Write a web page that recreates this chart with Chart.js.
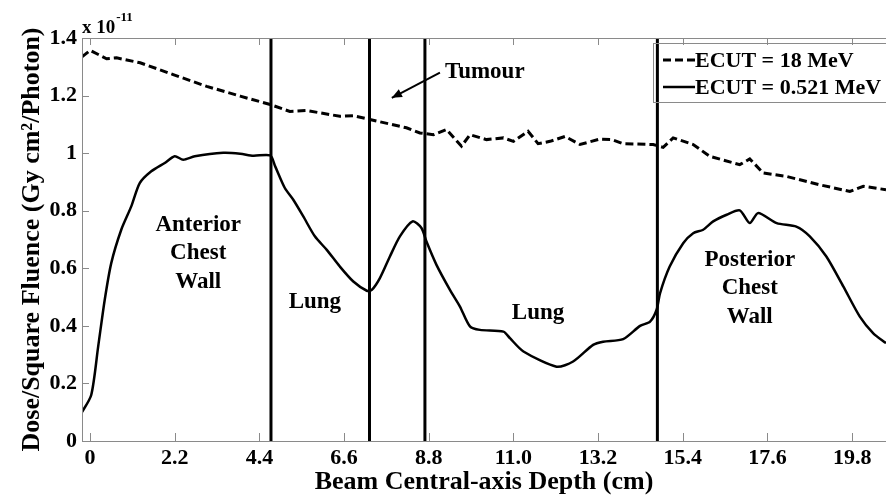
<!DOCTYPE html>
<html>
<head>
  <meta charset="utf-8" />
  <title>Dose / Square Fluence vs Depth</title>
  <script src="https://cdn.jsdelivr.net/npm/chart.js"></script>
  <style>
    body { margin: 0; background: #fff; }
    #doseChart { display: block; }
  </style>
</head>
<body>
  <canvas id="doseChart" width="886" height="495"></canvas>

  <script>
    // depth along beam central axis (cm)
    const depthHigh = [-0.21, -0.13, 0, 0.43, 0.69, 1.30, 2.16, 3.03, 3.90, 4.68, 5.19, 5.63, 6.49, 6.84, 7.27, 8.22,
      8.57, 8.92, 9.26, 9.65, 9.87, 10.30, 10.74, 11.0, 11.38, 11.64, 11.95, 12.34, 12.73, 13.25, 13.55, 13.85,
      14.63, 14.89, 15.15, 15.67, 16.10, 16.88, 17.14, 17.49, 18.10, 18.96, 19.74, 20.09, 20.68];
    // dose per square fluence, units of 1e-11 Gy cm^2/photon
    const doseHigh = [1.335, 1.343, 1.357, 1.328, 1.331, 1.314, 1.273, 1.232, 1.198, 1.169, 1.145, 1.148, 1.128, 1.130, 1.117, 1.088,
      1.070, 1.064, 1.082, 1.024, 1.064, 1.047, 1.053, 1.041, 1.076, 1.033, 1.041, 1.058, 1.030, 1.049, 1.047, 1.033,
      1.030, 1.020, 1.053, 1.030, 0.989, 0.960, 0.980, 0.931, 0.919, 0.890, 0.867, 0.885, 0.873];

    const depthLow = [-0.23, 0.03, 0.21, 0.38, 0.55, 0.81, 1.07, 1.29, 1.59, 1.94, 2.20, 2.42, 2.72, 3.46, 3.90, 4.24, 4.68,
      4.81, 5.06, 5.28, 5.54, 5.84, 6.15, 6.49, 6.84, 7.19, 7.32, 7.53, 7.79, 8.05, 8.38, 8.61, 8.74, 9.0, 9.35, 9.61,
      9.87, 10.13, 10.74, 10.91, 11.26, 12.12, 12.55, 13.07, 13.33, 13.85, 14.29, 14.55, 14.72, 14.81, 15.06, 15.41,
      15.67, 15.93, 16.19, 16.54, 16.88, 17.14, 17.36, 17.84, 18.35, 18.70, 19.13, 19.57, 20.0, 20.35, 20.68];
    const doseLow = [0.096, 0.160, 0.328, 0.490, 0.618, 0.734, 0.815, 0.896, 0.937, 0.966, 0.989, 0.977, 0.989, 1.001, 0.998, 0.991, 0.992,
      0.954, 0.879, 0.838, 0.780, 0.711, 0.664, 0.606, 0.554, 0.522, 0.525, 0.566, 0.641, 0.711, 0.763, 0.740, 0.693, 0.612, 0.525, 0.467,
      0.398, 0.386, 0.380, 0.357, 0.311, 0.258, 0.276, 0.334, 0.345, 0.354, 0.400, 0.415, 0.456, 0.514, 0.606, 0.687,
      0.722, 0.734, 0.763, 0.786, 0.801, 0.757, 0.792, 0.757, 0.745, 0.711, 0.641, 0.537, 0.432, 0.374, 0.340];

    // tissue boundaries (cm)
    const boundaries = [4.70, 7.26, 8.70, 14.74];

    const seriesNames = ['ECUT = 18 MeV', 'ECUT = 0.521 MeV'];

    const xTicks = [0, 2.2, 4.4, 6.6, 8.8, 11.0, 13.2, 15.4, 17.6, 19.8];
    const xTickLabels = ['0', '2.2', '4.4', '6.6', '8.8', '11.0', '13.2', '15.4', '17.6', '19.8'];
    const yTicks = [0, 0.2, 0.4, 0.6, 0.8, 1.0, 1.2, 1.4];
    const yTickLabels = ['0', '0.2', '0.4', '0.6', '0.8', '1', '1.2', '1.4'];

    // region labels, placed in data coordinates
    const regionLabels = [
      { lines: ['Anterior', 'Chest', 'Wall'], x: 2.81, y: 0.751 },
      { lines: ['Lung'], x: 5.84, y: 0.483 },
      { lines: ['Lung'], x: 11.64, y: 0.445 },
      { lines: ['Posterior', 'Chest', 'Wall'], x: 17.14, y: 0.630 }
    ];
    const tumourNote = { text: 'Tumour', x: 9.22, y: 1.28, fromX: 9.09, fromY: 1.28, toX: 7.84, toY: 1.192 };

    const SERIF = '"Liberation Serif", "Times New Roman", serif';

    const toPoints = (xs, ys) => xs.map((v, i) => ({ x: v, y: ys[i] }));

    const datasets = [
      {
        label: seriesNames[0],
        data: toPoints(depthHigh, doseHigh),
        borderColor: '#000',
        borderWidth: 3,
        borderDash: [8, 4],
        pointRadius: 0,
        tension: 0
      },
      {
        label: seriesNames[1],
        data: toPoints(depthLow, doseLow),
        borderColor: '#000',
        borderWidth: 2.5,
        pointRadius: 0,
        tension: 0.25
      }
    ];
    boundaries.forEach(b => {
      datasets.push({
        label: '',
        data: [{ x: b, y: yTicks[0] }, { x: b, y: yTicks[yTicks.length - 1] }],
        borderColor: '#000',
        borderWidth: 3,
        pointRadius: 0
      });
    });

    const decorations = {
      id: 'decorations',
      afterDraw(chart) {
        const { ctx, chartArea: a, scales: { x, y } } = chart;
        ctx.save();

        // axes box
        ctx.strokeStyle = '#8a8a8a';
        ctx.lineWidth = 1;
        ctx.strokeRect(a.left + 0.5, a.top + 0.5, a.right - a.left, a.bottom - a.top);

        // inward tick marks
        ctx.beginPath();
        xTicks.forEach(v => {
          const px = Math.round(x.getPixelForValue(v)) + 0.5;
          ctx.moveTo(px, a.bottom); ctx.lineTo(px, a.bottom - 8);
          ctx.moveTo(px, a.top); ctx.lineTo(px, a.top + 7);
        });
        yTicks.forEach(v => {
          const py = Math.round(y.getPixelForValue(v)) + 0.5;
          ctx.moveTo(a.left, py); ctx.lineTo(a.left + 7, py);
        });
        ctx.stroke();

        // exponent
        ctx.fillStyle = '#000';
        ctx.textBaseline = 'alphabetic';
        ctx.textAlign = 'left';
        ctx.font = 'bold 19px ' + SERIF;
        ctx.fillText('x 10', a.left, 33);
        const w = ctx.measureText('x 10').width;
        ctx.font = 'bold 13px ' + SERIF;
        ctx.fillText('-11', a.left + w + 1, 21);

        // region labels
        ctx.font = 'bold 23px ' + SERIF;
        ctx.textAlign = 'center';
        ctx.textBaseline = 'middle';
        regionLabels.forEach(r => {
          const cx = x.getPixelForValue(r.x);
          const cy = y.getPixelForValue(r.y);
          r.lines.forEach((t, i) => ctx.fillText(t, cx, cy + i * 28.5));
        });

        // tumour arrow
        const x0 = x.getPixelForValue(tumourNote.fromX), y0 = y.getPixelForValue(tumourNote.fromY);
        const x1 = x.getPixelForValue(tumourNote.toX), y1 = y.getPixelForValue(tumourNote.toY);
        ctx.strokeStyle = '#000';
        ctx.lineWidth = 2;
        ctx.beginPath();
        ctx.moveTo(x0, y0); ctx.lineTo(x1, y1);
        ctx.stroke();
        const ang = Math.atan2(y1 - y0, x1 - x0);
        ctx.beginPath();
        ctx.moveTo(x1, y1);
        ctx.lineTo(x1 - 11 * Math.cos(ang - 0.4), y1 - 11 * Math.sin(ang - 0.4));
        ctx.lineTo(x1 - 11 * Math.cos(ang + 0.4), y1 - 11 * Math.sin(ang + 0.4));
        ctx.closePath();
        ctx.fill();
        ctx.textAlign = 'left';
        ctx.fillText(tumourNote.text, x.getPixelForValue(tumourNote.x), y.getPixelForValue(tumourNote.y));

        // legend
        const lx = 653, ly = 43, lw = 240, lh = 59;
        ctx.strokeStyle = '#8a8a8a';
        ctx.lineWidth = 1;
        ctx.strokeRect(lx + 0.5, ly + 0.5, lw, lh);
        ctx.font = 'bold 22px ' + SERIF;
        chart.data.datasets.filter(d => d.label).forEach((d, i) => {
          const ry = ly + 17 + i * 27;
          ctx.strokeStyle = d.borderColor;
          ctx.lineWidth = d.borderWidth;
          ctx.setLineDash(d.borderDash || []);
          ctx.beginPath();
          ctx.moveTo(lx + 10, ry); ctx.lineTo(lx + 42, ry);
          ctx.stroke();
          ctx.setLineDash([]);
          ctx.fillText(d.label, lx + 42, ry + 1);
        });

        ctx.restore();
      }
    };

    const chart = new Chart(document.getElementById('doseChart'), {
      type: 'line',
      data: { datasets },
      options: {
        responsive: false,
        animation: false,
        layout: { padding: { top: 38, right: 0, left: 0, bottom: 0 } },
        plugins: {
          legend: { display: false },
          tooltip: { enabled: false }
        },
        scales: {
          x: {
            type: 'linear',
            min: -0.21,
            max: 20.68,
            afterBuildTicks: s => { s.ticks = xTicks.map(v => ({ value: v })); },
            afterFit: s => { s.height = 54; },
            grid: { display: false, drawTicks: false },
            border: { display: false },
            ticks: {
              autoSkip: false,
              maxRotation: 0,
              padding: 4,
              color: '#000',
              font: { family: SERIF, size: 22, weight: 'bold' },
              callback: (v, i) => xTickLabels[i]
            },
            title: {
              display: true,
              text: 'Beam Central-axis Depth (cm)',
              color: '#000',
              font: { family: SERIF, size: 26, weight: 'bold' },
              padding: { top: 0, bottom: -3 }
            }
          },
          y: {
            min: 0,
            max: 1.4,
            afterBuildTicks: s => { s.ticks = yTicks.map(v => ({ value: v })); },
            afterFit: s => { s.width = 82; },
            grid: { display: false, drawTicks: false },
            border: { display: false },
            ticks: {
              autoSkip: false,
              padding: 5,
              color: '#000',
              font: { family: SERIF, size: 22, weight: 'bold' },
              callback: (v, i) => yTickLabels[i]
            },
            title: {
              display: true,
              text: 'Dose/Square Fluence (Gy cm²/Photon)',
              color: '#000',
              font: { family: SERIF, size: 26, weight: 'bold' },
              padding: { top: 17, bottom: 0 }
            }
          }
        }
      },
      plugins: [decorations]
    });
  </script>
</body>
</html>
